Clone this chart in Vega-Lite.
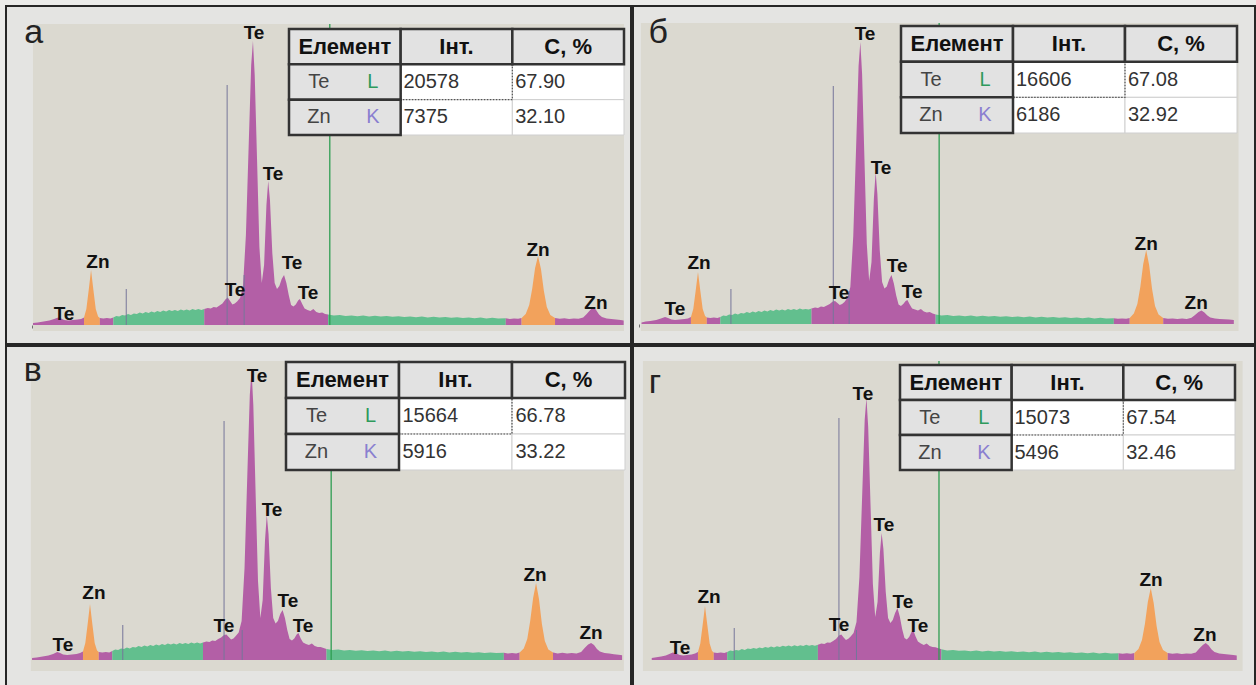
{
 "$schema": "https://vega.github.io/schema/vega-lite/v6.json",
 "padding": {"left": 5, "top": 5, "right": 4, "bottom": 1},
 "background": "#ebebe9",
 "spacing": 0,
 "datasets": {
  "fr": [
   {"p":"a","e":0.02,"e2":10.095,"c":3010,"c2":-60},{"p":"b","e":0.04,"e2":10.2,"c":3010,"c2":-70},{"p":"c","e":0.0,"e2":10.13,"c":2990,"c2":-110},{"p":"d","e":-0.05,"e2":10.2,"c":2990,"c2":-110}
  ],
  "ln": [
   {"p":"a","e":3.33,"c":2400,"k":"m"},{"p":"a","e":1.61,"c":360,"k":"m"},{"p":"a","e":3.62,"c":500,"k":"m"},{"p":"a","e":5.08,"c":3010,"k":"g"},
   {"p":"b","e":3.31,"c":2380,"k":"m"},{"p":"b","e":1.57,"c":350,"k":"m"},{"p":"b","e":3.58,"c":330,"k":"m"},{"p":"b","e":5.11,"c":3010,"k":"g"},
   {"p":"c","e":3.30,"c":2390,"k":"m"},{"p":"c","e":1.57,"c":350,"k":"m"},{"p":"c","e":3.61,"c":300,"k":"m"},{"p":"c","e":5.13,"c":2990,"k":"g"},
   {"p":"d","e":3.30,"c":2420,"k":"m"},{"p":"d","e":1.51,"c":320,"k":"m"},{"p":"d","e":3.60,"c":300,"k":"m"},{"p":"d","e":5.01,"c":2990,"k":"g"}
  ],
  "let": [
   {"p":"a","e":-0.13,"c":2820,"t":"а"},{"p":"b","e":0.17,"c":2810,"t":"б"},{"p":"c","e":-0.12,"c":2790,"t":"в"},{"p":"d","e":0.05,"c":2670,"t":"г"}
  ],
  "lab": [
   {"p":"a","e":3.788,"c":2920,"t":"Te"},{"p":"a","e":4.112,"c":1510,"t":"Te"},{"p":"a","e":4.436,"c":620,"t":"Te"},{"p":"a","e":4.709,"c":320,"t":"Te"},{"p":"a","e":3.464,"c":350,"t":"Te"},{"p":"a","e":1.128,"c":630,"t":"Zn"},{"p":"a","e":0.549,"c":110,"t":"Te"},{"p":"a","e":8.63,"c":750,"t":"Zn"},{"p":"a","e":9.618,"c":220,"t":"Zn"},
   {"p":"b","e":3.85,"c":2900,"t":"Te"},{"p":"b","e":4.122,"c":1560,"t":"Te"},{"p":"b","e":4.395,"c":580,"t":"Te"},{"p":"b","e":4.65,"c":320,"t":"Te"},{"p":"b","e":3.408,"c":310,"t":"Te"},{"p":"b","e":1.027,"c":610,"t":"Zn"},{"p":"b","e":0.619,"c":150,"t":"Te"},{"p":"b","e":8.63,"c":800,"t":"Zn"},{"p":"b","e":9.48,"c":210,"t":"Zn"},
   {"p":"c","e":3.863,"c":2840,"t":"Te"},{"p":"c","e":4.12,"c":1500,"t":"Te"},{"p":"c","e":4.392,"c":590,"t":"Te"},{"p":"c","e":4.649,"c":340,"t":"Te"},{"p":"c","e":3.299,"c":340,"t":"Te"},{"p":"c","e":1.078,"c":670,"t":"Zn"},{"p":"c","e":0.548,"c":150,"t":"Te"},{"p":"c","e":8.613,"c":850,"t":"Zn"},{"p":"c","e":9.569,"c":270,"t":"Zn"},
   {"p":"d","e":3.711,"c":2660,"t":"Te"},{"p":"d","e":4.07,"c":1350,"t":"Te"},{"p":"d","e":4.394,"c":580,"t":"Te"},{"p":"d","e":4.65,"c":340,"t":"Te"},{"p":"d","e":3.301,"c":350,"t":"Te"},{"p":"d","e":1.079,"c":630,"t":"Zn"},{"p":"d","e":0.583,"c":120,"t":"Te"},{"p":"d","e":8.634,"c":800,"t":"Zn"},{"p":"d","e":9.557,"c":250,"t":"Zn"}
  ],
  "tb": [
   {"p":"a","r":0,"col":0,"t":"Елемент","k":"h"},{"p":"a","r":0,"col":1,"t":"Інт.","k":"h"},{"p":"a","r":0,"col":2,"t":"С, %","k":"h"},
   {"p":"a","r":1,"col":0,"t":"Te","k":"n"},{"p":"a","r":1,"col":0,"t":"L","k":"s"},{"p":"a","r":1,"col":1,"t":"20578","k":"v"},{"p":"a","r":1,"col":2,"t":"67.90","k":"v"},
   {"p":"a","r":2,"col":0,"t":"Zn","k":"n"},{"p":"a","r":2,"col":0,"t":"K","k":"s"},{"p":"a","r":2,"col":1,"t":"7375","k":"v"},{"p":"a","r":2,"col":2,"t":"32.10","k":"v"},
   {"p":"b","r":0,"col":0,"t":"Елемент","k":"h"},{"p":"b","r":0,"col":1,"t":"Інт.","k":"h"},{"p":"b","r":0,"col":2,"t":"С, %","k":"h"},
   {"p":"b","r":1,"col":0,"t":"Te","k":"n"},{"p":"b","r":1,"col":0,"t":"L","k":"s"},{"p":"b","r":1,"col":1,"t":"16606","k":"v"},{"p":"b","r":1,"col":2,"t":"67.08","k":"v"},
   {"p":"b","r":2,"col":0,"t":"Zn","k":"n"},{"p":"b","r":2,"col":0,"t":"K","k":"s"},{"p":"b","r":2,"col":1,"t":"6186","k":"v"},{"p":"b","r":2,"col":2,"t":"32.92","k":"v"},
   {"p":"c","r":0,"col":0,"t":"Елемент","k":"h"},{"p":"c","r":0,"col":1,"t":"Інт.","k":"h"},{"p":"c","r":0,"col":2,"t":"С, %","k":"h"},
   {"p":"c","r":1,"col":0,"t":"Te","k":"n"},{"p":"c","r":1,"col":0,"t":"L","k":"s"},{"p":"c","r":1,"col":1,"t":"15664","k":"v"},{"p":"c","r":1,"col":2,"t":"66.78","k":"v"},
   {"p":"c","r":2,"col":0,"t":"Zn","k":"n"},{"p":"c","r":2,"col":0,"t":"K","k":"s"},{"p":"c","r":2,"col":1,"t":"5916","k":"v"},{"p":"c","r":2,"col":2,"t":"33.22","k":"v"},
   {"p":"d","r":0,"col":0,"t":"Елемент","k":"h"},{"p":"d","r":0,"col":1,"t":"Інт.","k":"h"},{"p":"d","r":0,"col":2,"t":"С, %","k":"h"},
   {"p":"d","r":1,"col":0,"t":"Te","k":"n"},{"p":"d","r":1,"col":0,"t":"L","k":"s"},{"p":"d","r":1,"col":1,"t":"15073","k":"v"},{"p":"d","r":1,"col":2,"t":"67.54","k":"v"},
   {"p":"d","r":2,"col":0,"t":"Zn","k":"n"},{"p":"d","r":2,"col":0,"t":"K","k":"s"},{"p":"d","r":2,"col":1,"t":"5496","k":"v"},{"p":"d","r":2,"col":2,"t":"32.46","k":"v"}
  ],
  "sa": [
   {"e":0.02,"c":20,"s":"m1"},{"e":0.1,"c":25,"s":"m1"},{"e":0.2,"c":35,"s":"m1"},{"e":0.3,"c":45,"s":"m1"},{"e":0.38,"c":60,"s":"m1"},{"e":0.45,"c":75,"s":"m1"},{"e":0.5,"c":65,"s":"m1"},{"e":0.55,"c":50,"s":"m1"},{"e":0.62,"c":45,"s":"m1"},{"e":0.7,"c":50,"s":"m1"},{"e":0.78,"c":55,"s":"m1"},{"e":0.84,"c":60,"s":"m1"},{"e":0.89,"c":75,"s":"m1"},
   {"e":0.89,"c":75,"s":"o1"},{"e":0.93,"c":160,"s":"o1"},{"e":0.97,"c":350,"s":"o1"},{"e":1.01,"c":550,"s":"o1"},{"e":1.05,"c":350,"s":"o1"},{"e":1.09,"c":160,"s":"o1"},{"e":1.13,"c":85,"s":"o1"},{"e":1.16,"c":70,"s":"o1"},
   {"e":1.16,"c":70,"s":"m2"},{"e":1.22,"c":65,"s":"m2"},{"e":1.28,"c":70,"s":"m2"},{"e":1.34,"c":65,"s":"m2"},{"e":1.39,"c":75,"s":"m2"},
   {"e":1.39,"c":75,"s":"g1"},{"e":1.44,"c":90,"s":"g1"},{"e":1.49,"c":85,"s":"g1"},{"e":1.54,"c":100,"s":"g1"},{"e":1.59,"c":95,"s":"g1"},{"e":1.64,"c":110,"s":"g1"},{"e":1.69,"c":100,"s":"g1"},{"e":1.74,"c":115,"s":"g1"},{"e":1.79,"c":110,"s":"g1"},{"e":1.84,"c":125,"s":"g1"},{"e":1.89,"c":115,"s":"g1"},{"e":1.94,"c":130,"s":"g1"},{"e":1.99,"c":120,"s":"g1"},{"e":2.04,"c":135,"s":"g1"},{"e":2.09,"c":125,"s":"g1"},{"e":2.14,"c":140,"s":"g1"},{"e":2.19,"c":130,"s":"g1"},{"e":2.24,"c":145,"s":"g1"},{"e":2.29,"c":135,"s":"g1"},{"e":2.34,"c":150,"s":"g1"},{"e":2.39,"c":140,"s":"g1"},{"e":2.44,"c":150,"s":"g1"},{"e":2.49,"c":140,"s":"g1"},{"e":2.54,"c":155,"s":"g1"},{"e":2.59,"c":145,"s":"g1"},{"e":2.64,"c":155,"s":"g1"},{"e":2.69,"c":145,"s":"g1"},{"e":2.74,"c":160,"s":"g1"},{"e":2.79,"c":150,"s":"g1"},{"e":2.84,"c":160,"s":"g1"},{"e":2.89,"c":150,"s":"g1"},{"e":2.94,"c":160,"s":"g1"},
   {"e":2.94,"c":160,"s":"m3"},{"e":3.0,"c":170,"s":"m3"},{"e":3.05,"c":165,"s":"m3"},{"e":3.1,"c":180,"s":"m3"},{"e":3.15,"c":175,"s":"m3"},{"e":3.2,"c":195,"s":"m3"},{"e":3.25,"c":215,"s":"m3"},{"e":3.3,"c":255,"s":"m3"},{"e":3.34,"c":275,"s":"m3"},{"e":3.38,"c":240,"s":"m3"},{"e":3.42,"c":205,"s":"m3"},{"e":3.46,"c":215,"s":"m3"},{"e":3.5,"c":235,"s":"m3"},{"e":3.55,"c":270,"s":"m3"},{"e":3.6,"c":380,"s":"m3"},{"e":3.65,"c":900,"s":"m3"},{"e":3.7,"c":1850,"s":"m3"},{"e":3.74,"c":2600,"s":"m3"},{"e":3.77,"c":2840,"s":"m3"},{"e":3.8,"c":2500,"s":"m3"},{"e":3.84,"c":1650,"s":"m3"},{"e":3.88,"c":780,"s":"m3"},{"e":3.92,"c":420,"s":"m3"},{"e":3.96,"c":600,"s":"m3"},{"e":4.0,"c":1200,"s":"m3"},{"e":4.03,"c":1440,"s":"m3"},{"e":4.06,"c":1250,"s":"m3"},{"e":4.1,"c":720,"s":"m3"},{"e":4.14,"c":420,"s":"m3"},{"e":4.18,"c":360,"s":"m3"},{"e":4.22,"c":390,"s":"m3"},{"e":4.26,"c":460,"s":"m3"},{"e":4.3,"c":500,"s":"m3"},{"e":4.34,"c":420,"s":"m3"},{"e":4.38,"c":300,"s":"m3"},{"e":4.42,"c":200,"s":"m3"},{"e":4.46,"c":185,"s":"m3"},{"e":4.5,"c":205,"s":"m3"},{"e":4.54,"c":245,"s":"m3"},{"e":4.57,"c":260,"s":"m3"},{"e":4.61,"c":210,"s":"m3"},{"e":4.65,"c":165,"s":"m3"},{"e":4.7,"c":150,"s":"m3"},{"e":4.75,"c":140,"s":"m3"},{"e":4.8,"c":160,"s":"m3"},{"e":4.85,"c":130,"s":"m3"},{"e":4.9,"c":120,"s":"m3"},{"e":4.95,"c":125,"s":"m3"},{"e":5.0,"c":110,"s":"m3"},{"e":5.05,"c":105,"s":"m3"},
   {"e":5.05,"c":105,"s":"g2"},{"e":5.15,"c":95,"s":"g2"},{"e":5.25,"c":100,"s":"g2"},{"e":5.35,"c":90,"s":"g2"},{"e":5.45,"c":95,"s":"g2"},{"e":5.55,"c":88,"s":"g2"},{"e":5.65,"c":95,"s":"g2"},{"e":5.75,"c":85,"s":"g2"},{"e":5.85,"c":92,"s":"g2"},{"e":5.95,"c":85,"s":"g2"},{"e":6.05,"c":90,"s":"g2"},{"e":6.15,"c":82,"s":"g2"},{"e":6.25,"c":88,"s":"g2"},{"e":6.35,"c":80,"s":"g2"},{"e":6.45,"c":86,"s":"g2"},{"e":6.55,"c":78,"s":"g2"},{"e":6.65,"c":84,"s":"g2"},{"e":6.75,"c":76,"s":"g2"},{"e":6.85,"c":82,"s":"g2"},{"e":6.95,"c":75,"s":"g2"},{"e":7.05,"c":80,"s":"g2"},{"e":7.15,"c":72,"s":"g2"},{"e":7.25,"c":78,"s":"g2"},{"e":7.35,"c":70,"s":"g2"},{"e":7.45,"c":76,"s":"g2"},{"e":7.55,"c":68,"s":"g2"},{"e":7.65,"c":74,"s":"g2"},{"e":7.75,"c":66,"s":"g2"},{"e":7.85,"c":72,"s":"g2"},{"e":7.95,"c":65,"s":"g2"},{"e":8.08,"c":68,"s":"g2"},
   {"e":8.08,"c":68,"s":"m4"},{"e":8.15,"c":60,"s":"m4"},{"e":8.22,"c":66,"s":"m4"},{"e":8.29,"c":62,"s":"m4"},{"e":8.35,"c":70,"s":"m4"},
   {"e":8.35,"c":70,"s":"o2"},{"e":8.42,"c":110,"s":"o2"},{"e":8.48,"c":200,"s":"o2"},{"e":8.53,"c":360,"s":"o2"},{"e":8.58,"c":570,"s":"o2"},{"e":8.63,"c":690,"s":"o2"},{"e":8.68,"c":560,"s":"o2"},{"e":8.73,"c":340,"s":"o2"},{"e":8.78,"c":180,"s":"o2"},{"e":8.84,"c":100,"s":"o2"},{"e":8.92,"c":70,"s":"o2"},
   {"e":8.92,"c":70,"s":"m5"},{"e":9.0,"c":62,"s":"m5"},{"e":9.08,"c":68,"s":"m5"},{"e":9.16,"c":60,"s":"m5"},{"e":9.24,"c":66,"s":"m5"},{"e":9.32,"c":62,"s":"m5"},{"e":9.4,"c":75,"s":"m5"},{"e":9.46,"c":110,"s":"m5"},{"e":9.52,"c":150,"s":"m5"},{"e":9.57,"c":180,"s":"m5"},{"e":9.62,"c":150,"s":"m5"},{"e":9.67,"c":105,"s":"m5"},{"e":9.72,"c":80,"s":"m5"},{"e":9.8,"c":66,"s":"m5"},{"e":9.88,"c":60,"s":"m5"},{"e":9.96,"c":55,"s":"m5"},{"e":10.04,"c":50,"s":"m5"},{"e":10.09,"c":45,"s":"m5"}
  ],
  "sb": [
   {"e":0.05,"c":15,"s":"m1"},{"e":0.12,"c":25,"s":"m1"},{"e":0.2,"c":30,"s":"m1"},{"e":0.3,"c":40,"s":"m1"},{"e":0.38,"c":55,"s":"m1"},{"e":0.45,"c":70,"s":"m1"},{"e":0.5,"c":60,"s":"m1"},{"e":0.56,"c":45,"s":"m1"},{"e":0.62,"c":40,"s":"m1"},{"e":0.7,"c":45,"s":"m1"},{"e":0.78,"c":50,"s":"m1"},{"e":0.84,"c":55,"s":"m1"},{"e":0.89,"c":70,"s":"m1"},
   {"e":0.89,"c":70,"s":"o1"},{"e":0.93,"c":150,"s":"o1"},{"e":0.97,"c":330,"s":"o1"},{"e":1.01,"c":520,"s":"o1"},{"e":1.05,"c":330,"s":"o1"},{"e":1.09,"c":150,"s":"o1"},{"e":1.13,"c":80,"s":"o1"},{"e":1.16,"c":65,"s":"o1"},
   {"e":1.16,"c":65,"s":"m2"},{"e":1.22,"c":60,"s":"m2"},{"e":1.28,"c":65,"s":"m2"},{"e":1.34,"c":60,"s":"m2"},{"e":1.39,"c":70,"s":"m2"},
   {"e":1.39,"c":70,"s":"g1"},{"e":1.44,"c":85,"s":"g1"},{"e":1.49,"c":80,"s":"g1"},{"e":1.54,"c":95,"s":"g1"},{"e":1.59,"c":90,"s":"g1"},{"e":1.64,"c":105,"s":"g1"},{"e":1.69,"c":95,"s":"g1"},{"e":1.74,"c":110,"s":"g1"},{"e":1.79,"c":105,"s":"g1"},{"e":1.84,"c":120,"s":"g1"},{"e":1.89,"c":110,"s":"g1"},{"e":1.94,"c":125,"s":"g1"},{"e":1.99,"c":115,"s":"g1"},{"e":2.04,"c":130,"s":"g1"},{"e":2.09,"c":120,"s":"g1"},{"e":2.14,"c":135,"s":"g1"},{"e":2.19,"c":125,"s":"g1"},{"e":2.24,"c":140,"s":"g1"},{"e":2.29,"c":130,"s":"g1"},{"e":2.34,"c":145,"s":"g1"},{"e":2.39,"c":135,"s":"g1"},{"e":2.44,"c":145,"s":"g1"},{"e":2.49,"c":135,"s":"g1"},{"e":2.54,"c":150,"s":"g1"},{"e":2.59,"c":140,"s":"g1"},{"e":2.64,"c":150,"s":"g1"},{"e":2.69,"c":140,"s":"g1"},{"e":2.74,"c":155,"s":"g1"},{"e":2.79,"c":145,"s":"g1"},{"e":2.84,"c":150,"s":"g1"},{"e":2.89,"c":145,"s":"g1"},{"e":2.94,"c":155,"s":"g1"},
   {"e":2.94,"c":155,"s":"m3"},{"e":3.0,"c":165,"s":"m3"},{"e":3.05,"c":160,"s":"m3"},{"e":3.1,"c":175,"s":"m3"},{"e":3.15,"c":170,"s":"m3"},{"e":3.2,"c":185,"s":"m3"},{"e":3.25,"c":200,"s":"m3"},{"e":3.3,"c":225,"s":"m3"},{"e":3.34,"c":230,"s":"m3"},{"e":3.38,"c":210,"s":"m3"},{"e":3.42,"c":190,"s":"m3"},{"e":3.46,"c":200,"s":"m3"},{"e":3.5,"c":220,"s":"m3"},{"e":3.55,"c":260,"s":"m3"},{"e":3.6,"c":370,"s":"m3"},{"e":3.65,"c":880,"s":"m3"},{"e":3.7,"c":1800,"s":"m3"},{"e":3.74,"c":2580,"s":"m3"},{"e":3.77,"c":2820,"s":"m3"},{"e":3.8,"c":2500,"s":"m3"},{"e":3.84,"c":1650,"s":"m3"},{"e":3.88,"c":800,"s":"m3"},{"e":3.92,"c":430,"s":"m3"},{"e":3.96,"c":620,"s":"m3"},{"e":4.0,"c":1250,"s":"m3"},{"e":4.03,"c":1520,"s":"m3"},{"e":4.06,"c":1300,"s":"m3"},{"e":4.1,"c":740,"s":"m3"},{"e":4.14,"c":420,"s":"m3"},{"e":4.18,"c":355,"s":"m3"},{"e":4.22,"c":375,"s":"m3"},{"e":4.26,"c":445,"s":"m3"},{"e":4.3,"c":490,"s":"m3"},{"e":4.34,"c":405,"s":"m3"},{"e":4.38,"c":285,"s":"m3"},{"e":4.42,"c":195,"s":"m3"},{"e":4.46,"c":180,"s":"m3"},{"e":4.5,"c":200,"s":"m3"},{"e":4.54,"c":230,"s":"m3"},{"e":4.57,"c":240,"s":"m3"},{"e":4.61,"c":195,"s":"m3"},{"e":4.65,"c":155,"s":"m3"},{"e":4.7,"c":145,"s":"m3"},{"e":4.75,"c":135,"s":"m3"},{"e":4.8,"c":150,"s":"m3"},{"e":4.85,"c":125,"s":"m3"},{"e":4.9,"c":115,"s":"m3"},{"e":4.95,"c":120,"s":"m3"},{"e":5.0,"c":105,"s":"m3"},{"e":5.05,"c":95,"s":"m3"},
   {"e":5.05,"c":95,"s":"g2"},{"e":5.15,"c":85,"s":"g2"},{"e":5.25,"c":90,"s":"g2"},{"e":5.35,"c":80,"s":"g2"},{"e":5.45,"c":86,"s":"g2"},{"e":5.55,"c":78,"s":"g2"},{"e":5.65,"c":84,"s":"g2"},{"e":5.75,"c":76,"s":"g2"},{"e":5.85,"c":82,"s":"g2"},{"e":5.95,"c":74,"s":"g2"},{"e":6.05,"c":80,"s":"g2"},{"e":6.15,"c":72,"s":"g2"},{"e":6.25,"c":78,"s":"g2"},{"e":6.35,"c":70,"s":"g2"},{"e":6.45,"c":76,"s":"g2"},{"e":6.55,"c":68,"s":"g2"},{"e":6.65,"c":74,"s":"g2"},{"e":6.75,"c":66,"s":"g2"},{"e":6.85,"c":72,"s":"g2"},{"e":6.95,"c":64,"s":"g2"},{"e":7.05,"c":70,"s":"g2"},{"e":7.15,"c":62,"s":"g2"},{"e":7.25,"c":68,"s":"g2"},{"e":7.35,"c":60,"s":"g2"},{"e":7.45,"c":66,"s":"g2"},{"e":7.55,"c":58,"s":"g2"},{"e":7.65,"c":64,"s":"g2"},{"e":7.75,"c":56,"s":"g2"},{"e":7.85,"c":62,"s":"g2"},{"e":7.95,"c":55,"s":"g2"},{"e":8.08,"c":58,"s":"g2"},
   {"e":8.08,"c":58,"s":"m4"},{"e":8.15,"c":52,"s":"m4"},{"e":8.22,"c":56,"s":"m4"},{"e":8.29,"c":52,"s":"m4"},{"e":8.35,"c":60,"s":"m4"},
   {"e":8.35,"c":60,"s":"o2"},{"e":8.42,"c":105,"s":"o2"},{"e":8.48,"c":200,"s":"o2"},{"e":8.53,"c":370,"s":"o2"},{"e":8.58,"c":600,"s":"o2"},{"e":8.63,"c":740,"s":"o2"},{"e":8.68,"c":590,"s":"o2"},{"e":8.73,"c":350,"s":"o2"},{"e":8.78,"c":180,"s":"o2"},{"e":8.84,"c":95,"s":"o2"},{"e":8.92,"c":60,"s":"o2"},
   {"e":8.92,"c":60,"s":"m5"},{"e":9.0,"c":52,"s":"m5"},{"e":9.08,"c":56,"s":"m5"},{"e":9.16,"c":50,"s":"m5"},{"e":9.24,"c":54,"s":"m5"},{"e":9.32,"c":50,"s":"m5"},{"e":9.4,"c":62,"s":"m5"},{"e":9.46,"c":90,"s":"m5"},{"e":9.52,"c":120,"s":"m5"},{"e":9.57,"c":135,"s":"m5"},{"e":9.62,"c":115,"s":"m5"},{"e":9.67,"c":85,"s":"m5"},{"e":9.72,"c":65,"s":"m5"},{"e":9.8,"c":55,"s":"m5"},{"e":9.88,"c":50,"s":"m5"},{"e":9.96,"c":48,"s":"m5"},{"e":10.04,"c":45,"s":"m5"},{"e":10.12,"c":40,"s":"m5"}
  ],
  "sc": [
   {"e":0.02,"c":20,"s":"m1"},{"e":0.1,"c":25,"s":"m1"},{"e":0.2,"c":35,"s":"m1"},{"e":0.3,"c":45,"s":"m1"},{"e":0.38,"c":60,"s":"m1"},{"e":0.45,"c":80,"s":"m1"},{"e":0.5,"c":70,"s":"m1"},{"e":0.55,"c":55,"s":"m1"},{"e":0.62,"c":50,"s":"m1"},{"e":0.7,"c":55,"s":"m1"},{"e":0.78,"c":60,"s":"m1"},{"e":0.84,"c":70,"s":"m1"},{"e":0.89,"c":85,"s":"m1"},
   {"e":0.89,"c":85,"s":"o1"},{"e":0.93,"c":170,"s":"o1"},{"e":0.97,"c":360,"s":"o1"},{"e":1.01,"c":560,"s":"o1"},{"e":1.05,"c":360,"s":"o1"},{"e":1.09,"c":170,"s":"o1"},{"e":1.13,"c":95,"s":"o1"},{"e":1.16,"c":80,"s":"o1"},
   {"e":1.16,"c":80,"s":"m2"},{"e":1.22,"c":75,"s":"m2"},{"e":1.28,"c":80,"s":"m2"},{"e":1.34,"c":75,"s":"m2"},{"e":1.39,"c":90,"s":"m2"},
   {"e":1.39,"c":90,"s":"g1"},{"e":1.44,"c":105,"s":"g1"},{"e":1.49,"c":100,"s":"g1"},{"e":1.54,"c":115,"s":"g1"},{"e":1.59,"c":110,"s":"g1"},{"e":1.64,"c":125,"s":"g1"},{"e":1.69,"c":115,"s":"g1"},{"e":1.74,"c":130,"s":"g1"},{"e":1.79,"c":125,"s":"g1"},{"e":1.84,"c":140,"s":"g1"},{"e":1.89,"c":130,"s":"g1"},{"e":1.94,"c":145,"s":"g1"},{"e":1.99,"c":135,"s":"g1"},{"e":2.04,"c":150,"s":"g1"},{"e":2.09,"c":140,"s":"g1"},{"e":2.14,"c":155,"s":"g1"},{"e":2.19,"c":145,"s":"g1"},{"e":2.24,"c":160,"s":"g1"},{"e":2.29,"c":150,"s":"g1"},{"e":2.34,"c":165,"s":"g1"},{"e":2.39,"c":155,"s":"g1"},{"e":2.44,"c":165,"s":"g1"},{"e":2.49,"c":155,"s":"g1"},{"e":2.54,"c":170,"s":"g1"},{"e":2.59,"c":160,"s":"g1"},{"e":2.64,"c":170,"s":"g1"},{"e":2.69,"c":160,"s":"g1"},{"e":2.74,"c":175,"s":"g1"},{"e":2.79,"c":165,"s":"g1"},{"e":2.84,"c":175,"s":"g1"},{"e":2.89,"c":165,"s":"g1"},{"e":2.94,"c":175,"s":"g1"},
   {"e":2.94,"c":175,"s":"m3"},{"e":3.0,"c":185,"s":"m3"},{"e":3.05,"c":180,"s":"m3"},{"e":3.1,"c":195,"s":"m3"},{"e":3.15,"c":190,"s":"m3"},{"e":3.2,"c":210,"s":"m3"},{"e":3.25,"c":225,"s":"m3"},{"e":3.3,"c":250,"s":"m3"},{"e":3.34,"c":255,"s":"m3"},{"e":3.38,"c":230,"s":"m3"},{"e":3.42,"c":205,"s":"m3"},{"e":3.46,"c":215,"s":"m3"},{"e":3.5,"c":240,"s":"m3"},{"e":3.55,"c":275,"s":"m3"},{"e":3.6,"c":390,"s":"m3"},{"e":3.65,"c":920,"s":"m3"},{"e":3.7,"c":1900,"s":"m3"},{"e":3.74,"c":2650,"s":"m3"},{"e":3.77,"c":2900,"s":"m3"},{"e":3.8,"c":2550,"s":"m3"},{"e":3.84,"c":1650,"s":"m3"},{"e":3.88,"c":790,"s":"m3"},{"e":3.92,"c":420,"s":"m3"},{"e":3.96,"c":600,"s":"m3"},{"e":4.0,"c":1200,"s":"m3"},{"e":4.03,"c":1450,"s":"m3"},{"e":4.06,"c":1260,"s":"m3"},{"e":4.1,"c":720,"s":"m3"},{"e":4.14,"c":420,"s":"m3"},{"e":4.18,"c":365,"s":"m3"},{"e":4.22,"c":390,"s":"m3"},{"e":4.26,"c":460,"s":"m3"},{"e":4.3,"c":500,"s":"m3"},{"e":4.34,"c":420,"s":"m3"},{"e":4.38,"c":300,"s":"m3"},{"e":4.42,"c":210,"s":"m3"},{"e":4.46,"c":195,"s":"m3"},{"e":4.5,"c":215,"s":"m3"},{"e":4.54,"c":255,"s":"m3"},{"e":4.57,"c":270,"s":"m3"},{"e":4.61,"c":215,"s":"m3"},{"e":4.65,"c":175,"s":"m3"},{"e":4.7,"c":160,"s":"m3"},{"e":4.75,"c":150,"s":"m3"},{"e":4.8,"c":165,"s":"m3"},{"e":4.85,"c":140,"s":"m3"},{"e":4.9,"c":130,"s":"m3"},{"e":4.95,"c":130,"s":"m3"},{"e":5.0,"c":120,"s":"m3"},{"e":5.05,"c":110,"s":"m3"},
   {"e":5.05,"c":110,"s":"g2"},{"e":5.15,"c":100,"s":"g2"},{"e":5.25,"c":105,"s":"g2"},{"e":5.35,"c":95,"s":"g2"},{"e":5.45,"c":100,"s":"g2"},{"e":5.55,"c":92,"s":"g2"},{"e":5.65,"c":98,"s":"g2"},{"e":5.75,"c":90,"s":"g2"},{"e":5.85,"c":96,"s":"g2"},{"e":5.95,"c":88,"s":"g2"},{"e":6.05,"c":94,"s":"g2"},{"e":6.15,"c":86,"s":"g2"},{"e":6.25,"c":92,"s":"g2"},{"e":6.35,"c":84,"s":"g2"},{"e":6.45,"c":90,"s":"g2"},{"e":6.55,"c":82,"s":"g2"},{"e":6.65,"c":88,"s":"g2"},{"e":6.75,"c":80,"s":"g2"},{"e":6.85,"c":86,"s":"g2"},{"e":6.95,"c":78,"s":"g2"},{"e":7.05,"c":84,"s":"g2"},{"e":7.15,"c":76,"s":"g2"},{"e":7.25,"c":82,"s":"g2"},{"e":7.35,"c":74,"s":"g2"},{"e":7.45,"c":80,"s":"g2"},{"e":7.55,"c":72,"s":"g2"},{"e":7.65,"c":78,"s":"g2"},{"e":7.75,"c":70,"s":"g2"},{"e":7.85,"c":76,"s":"g2"},{"e":7.95,"c":70,"s":"g2"},{"e":8.08,"c":72,"s":"g2"},
   {"e":8.08,"c":72,"s":"m4"},{"e":8.15,"c":65,"s":"m4"},{"e":8.22,"c":70,"s":"m4"},{"e":8.29,"c":66,"s":"m4"},{"e":8.35,"c":75,"s":"m4"},
   {"e":8.35,"c":75,"s":"o2"},{"e":8.42,"c":115,"s":"o2"},{"e":8.48,"c":210,"s":"o2"},{"e":8.53,"c":390,"s":"o2"},{"e":8.58,"c":620,"s":"o2"},{"e":8.63,"c":770,"s":"o2"},{"e":8.68,"c":610,"s":"o2"},{"e":8.73,"c":360,"s":"o2"},{"e":8.78,"c":190,"s":"o2"},{"e":8.84,"c":105,"s":"o2"},{"e":8.92,"c":75,"s":"o2"},
   {"e":8.92,"c":75,"s":"m5"},{"e":9.0,"c":66,"s":"m5"},{"e":9.08,"c":72,"s":"m5"},{"e":9.16,"c":64,"s":"m5"},{"e":9.24,"c":70,"s":"m5"},{"e":9.32,"c":66,"s":"m5"},{"e":9.4,"c":80,"s":"m5"},{"e":9.46,"c":120,"s":"m5"},{"e":9.52,"c":155,"s":"m5"},{"e":9.57,"c":170,"s":"m5"},{"e":9.62,"c":150,"s":"m5"},{"e":9.67,"c":110,"s":"m5"},{"e":9.72,"c":85,"s":"m5"},{"e":9.8,"c":70,"s":"m5"},{"e":9.88,"c":64,"s":"m5"},{"e":9.96,"c":58,"s":"m5"},{"e":10.04,"c":52,"s":"m5"},{"e":10.1,"c":48,"s":"m5"}
  ],
  "sd": [
   {"e":0.1,"c":20,"s":"m1"},{"e":0.18,"c":28,"s":"m1"},{"e":0.26,"c":35,"s":"m1"},{"e":0.34,"c":45,"s":"m1"},{"e":0.4,"c":60,"s":"m1"},{"e":0.46,"c":75,"s":"m1"},{"e":0.52,"c":65,"s":"m1"},{"e":0.58,"c":50,"s":"m1"},{"e":0.64,"c":45,"s":"m1"},{"e":0.7,"c":50,"s":"m1"},{"e":0.78,"c":55,"s":"m1"},{"e":0.84,"c":65,"s":"m1"},{"e":0.89,"c":80,"s":"m1"},
   {"e":0.89,"c":80,"s":"o1"},{"e":0.93,"c":165,"s":"o1"},{"e":0.97,"c":350,"s":"o1"},{"e":1.01,"c":540,"s":"o1"},{"e":1.05,"c":350,"s":"o1"},{"e":1.09,"c":165,"s":"o1"},{"e":1.13,"c":90,"s":"o1"},{"e":1.16,"c":75,"s":"o1"},
   {"e":1.16,"c":75,"s":"m2"},{"e":1.22,"c":70,"s":"m2"},{"e":1.28,"c":75,"s":"m2"},{"e":1.34,"c":70,"s":"m2"},{"e":1.39,"c":80,"s":"m2"},
   {"e":1.39,"c":80,"s":"g1"},{"e":1.44,"c":95,"s":"g1"},{"e":1.49,"c":90,"s":"g1"},{"e":1.54,"c":100,"s":"g1"},{"e":1.59,"c":95,"s":"g1"},{"e":1.64,"c":110,"s":"g1"},{"e":1.69,"c":100,"s":"g1"},{"e":1.74,"c":115,"s":"g1"},{"e":1.79,"c":110,"s":"g1"},{"e":1.84,"c":120,"s":"g1"},{"e":1.89,"c":112,"s":"g1"},{"e":1.94,"c":125,"s":"g1"},{"e":1.99,"c":118,"s":"g1"},{"e":2.04,"c":130,"s":"g1"},{"e":2.09,"c":122,"s":"g1"},{"e":2.14,"c":135,"s":"g1"},{"e":2.19,"c":126,"s":"g1"},{"e":2.24,"c":138,"s":"g1"},{"e":2.29,"c":130,"s":"g1"},{"e":2.34,"c":142,"s":"g1"},{"e":2.39,"c":134,"s":"g1"},{"e":2.44,"c":144,"s":"g1"},{"e":2.49,"c":136,"s":"g1"},{"e":2.54,"c":148,"s":"g1"},{"e":2.59,"c":138,"s":"g1"},{"e":2.64,"c":148,"s":"g1"},{"e":2.69,"c":140,"s":"g1"},{"e":2.74,"c":152,"s":"g1"},{"e":2.79,"c":142,"s":"g1"},{"e":2.84,"c":150,"s":"g1"},{"e":2.89,"c":142,"s":"g1"},{"e":2.94,"c":152,"s":"g1"},
   {"e":2.94,"c":152,"s":"m3"},{"e":3.0,"c":165,"s":"m3"},{"e":3.05,"c":160,"s":"m3"},{"e":3.1,"c":175,"s":"m3"},{"e":3.15,"c":172,"s":"m3"},{"e":3.2,"c":190,"s":"m3"},{"e":3.25,"c":210,"s":"m3"},{"e":3.3,"c":245,"s":"m3"},{"e":3.34,"c":255,"s":"m3"},{"e":3.38,"c":225,"s":"m3"},{"e":3.42,"c":200,"s":"m3"},{"e":3.46,"c":212,"s":"m3"},{"e":3.5,"c":235,"s":"m3"},{"e":3.55,"c":270,"s":"m3"},{"e":3.6,"c":380,"s":"m3"},{"e":3.65,"c":830,"s":"m3"},{"e":3.7,"c":1700,"s":"m3"},{"e":3.74,"c":2400,"s":"m3"},{"e":3.77,"c":2620,"s":"m3"},{"e":3.8,"c":2330,"s":"m3"},{"e":3.84,"c":1550,"s":"m3"},{"e":3.88,"c":760,"s":"m3"},{"e":3.92,"c":430,"s":"m3"},{"e":3.96,"c":580,"s":"m3"},{"e":4.0,"c":1070,"s":"m3"},{"e":4.03,"c":1270,"s":"m3"},{"e":4.06,"c":1110,"s":"m3"},{"e":4.1,"c":680,"s":"m3"},{"e":4.14,"c":420,"s":"m3"},{"e":4.18,"c":370,"s":"m3"},{"e":4.22,"c":400,"s":"m3"},{"e":4.26,"c":470,"s":"m3"},{"e":4.3,"c":520,"s":"m3"},{"e":4.34,"c":435,"s":"m3"},{"e":4.38,"c":310,"s":"m3"},{"e":4.42,"c":220,"s":"m3"},{"e":4.46,"c":205,"s":"m3"},{"e":4.5,"c":230,"s":"m3"},{"e":4.54,"c":280,"s":"m3"},{"e":4.57,"c":300,"s":"m3"},{"e":4.61,"c":235,"s":"m3"},{"e":4.65,"c":185,"s":"m3"},{"e":4.7,"c":165,"s":"m3"},{"e":4.75,"c":150,"s":"m3"},{"e":4.8,"c":165,"s":"m3"},{"e":4.85,"c":140,"s":"m3"},{"e":4.9,"c":130,"s":"m3"},{"e":4.95,"c":128,"s":"m3"},{"e":5.0,"c":118,"s":"m3"},{"e":5.05,"c":108,"s":"m3"},
   {"e":5.05,"c":108,"s":"g2"},{"e":5.15,"c":96,"s":"g2"},{"e":5.25,"c":100,"s":"g2"},{"e":5.35,"c":92,"s":"g2"},{"e":5.45,"c":96,"s":"g2"},{"e":5.55,"c":88,"s":"g2"},{"e":5.65,"c":94,"s":"g2"},{"e":5.75,"c":86,"s":"g2"},{"e":5.85,"c":92,"s":"g2"},{"e":5.95,"c":84,"s":"g2"},{"e":6.05,"c":90,"s":"g2"},{"e":6.15,"c":82,"s":"g2"},{"e":6.25,"c":88,"s":"g2"},{"e":6.35,"c":80,"s":"g2"},{"e":6.45,"c":86,"s":"g2"},{"e":6.55,"c":78,"s":"g2"},{"e":6.65,"c":84,"s":"g2"},{"e":6.75,"c":76,"s":"g2"},{"e":6.85,"c":82,"s":"g2"},{"e":6.95,"c":74,"s":"g2"},{"e":7.05,"c":80,"s":"g2"},{"e":7.15,"c":72,"s":"g2"},{"e":7.25,"c":78,"s":"g2"},{"e":7.35,"c":70,"s":"g2"},{"e":7.45,"c":76,"s":"g2"},{"e":7.55,"c":68,"s":"g2"},{"e":7.65,"c":74,"s":"g2"},{"e":7.75,"c":66,"s":"g2"},{"e":7.85,"c":72,"s":"g2"},{"e":7.95,"c":65,"s":"g2"},{"e":8.08,"c":68,"s":"g2"},
   {"e":8.08,"c":68,"s":"m4"},{"e":8.15,"c":62,"s":"m4"},{"e":8.22,"c":67,"s":"m4"},{"e":8.29,"c":63,"s":"m4"},{"e":8.35,"c":70,"s":"m4"},
   {"e":8.35,"c":70,"s":"o2"},{"e":8.42,"c":110,"s":"o2"},{"e":8.48,"c":200,"s":"o2"},{"e":8.53,"c":360,"s":"o2"},{"e":8.58,"c":580,"s":"o2"},{"e":8.63,"c":720,"s":"o2"},{"e":8.68,"c":570,"s":"o2"},{"e":8.73,"c":340,"s":"o2"},{"e":8.78,"c":180,"s":"o2"},{"e":8.84,"c":100,"s":"o2"},{"e":8.92,"c":70,"s":"o2"},
   {"e":8.92,"c":70,"s":"m5"},{"e":9.0,"c":62,"s":"m5"},{"e":9.08,"c":68,"s":"m5"},{"e":9.16,"c":60,"s":"m5"},{"e":9.24,"c":66,"s":"m5"},{"e":9.32,"c":62,"s":"m5"},{"e":9.4,"c":76,"s":"m5"},{"e":9.46,"c":115,"s":"m5"},{"e":9.52,"c":150,"s":"m5"},{"e":9.57,"c":170,"s":"m5"},{"e":9.62,"c":145,"s":"m5"},{"e":9.67,"c":105,"s":"m5"},{"e":9.72,"c":80,"s":"m5"},{"e":9.8,"c":66,"s":"m5"},{"e":9.88,"c":60,"s":"m5"},{"e":9.96,"c":55,"s":"m5"},{"e":10.04,"c":50,"s":"m5"},{"e":10.1,"c":45,"s":"m5"}
  ]
 },
 "vconcat": [
  {
   "spacing": 0,
   "hconcat": [
    {
     "width": 625, "height": 338,
     "resolve": {"scale": {"x": "independent", "y": "independent", "color": "independent"}},
     "layer": [
      {
       "encoding": {
        "x": {"field": "e", "type": "quantitative", "scale": {"domain": [-0.44, 10.215], "nice": false, "zero": false}, "axis": {"values": [0,0.125,0.25,0.375,0.5,0.625,0.75,0.875,1,1.125,1.25,1.375,1.5,1.625,1.75,1.875,2,2.125,2.25,2.375,2.5,2.625,2.75,2.875,3,3.125,3.25,3.375,3.5,3.625,3.75,3.875,4,4.125,4.25,4.375,4.5,4.625,4.75,4.875,5,5.125,5.25,5.375,5.5,5.625,5.75,5.875,6,6.125,6.25,6.375,6.5,6.625,6.75,6.875,7,7.125,7.25,7.375,7.5,7.625,7.75,7.875,8,8.125,8.25,8.375,8.5,8.625,8.75,8.875,9,9.125,9.25,9.375,9.5,9.625,9.75,9.875,10], "labels": false, "domain": false, "grid": false, "title": null, "ticks": true, "tickSize": 3, "tickColor": "#6e6e6e", "offset": -19}},
        "y": {"field": "c", "type": "quantitative", "stack": null, "scale": {"domain": [-190, 3190], "nice": false, "zero": false}, "axis": null}
       },
       "layer": [
        {"data": {"name": "fr"}, "transform": [{"filter": "datum.p == 'a'"}], "mark": {"type": "rect", "fill": "#dbd9d0"}, "encoding": {"x2": {"field": "e2"}, "y2": {"field": "c2"}}},
        {"data": {"name": "sa"}, "mark": {"type": "area"}, "encoding": {"y2": {"datum": 0}, "color": {"field": "s", "type": "nominal", "scale": {"domain": ["m1","o1","m2","g1","m3","g2","m4","o2","m5"], "range": ["#b35fa6","#f2a25c","#b35fa6","#62bf8e","#b35fa6","#62bf8e","#b35fa6","#f2a25c","#b35fa6"]}, "legend": null}}},
        {"data": {"name": "ln"}, "transform": [{"filter": "datum.p == 'a' && datum.k == 'm'"}], "mark": {"type": "rule", "color": "#76769a", "strokeWidth": 1}, "encoding": {"y2": {"datum": 0}}},
        {"data": {"name": "ln"}, "transform": [{"filter": "datum.p == 'a' && datum.k == 'g'"}], "mark": {"type": "rule", "color": "#2f9e52", "strokeWidth": 1.3}, "encoding": {"y2": {"datum": 0}}},
        {"data": {"name": "lab"}, "transform": [{"filter": "datum.p == 'a'"}], "mark": {"type": "text", "font": "Liberation Sans", "fontSize": 19, "fontWeight": "bold", "color": "#111111"}, "encoding": {"text": {"field": "t"}}},
        {"data": {"name": "let"}, "transform": [{"filter": "datum.p == 'a'"}], "mark": {"type": "text", "font": "Liberation Sans", "fontSize": 34, "align": "left", "baseline": "alphabetic", "color": "#222222"}, "encoding": {"text": {"field": "t"}}}
       ]
      },
      {
       "data": {"name": "tb"},
       "transform": [{"filter": "datum.p == 'a'"}],
       "encoding": {
        "x": {"field": "col", "type": "ordinal", "scale": {"type": "band", "domain": [0,1,2], "range": [283, 618], "paddingInner": 0, "paddingOuter": 0}, "axis": null},
        "y": {"field": "r", "type": "ordinal", "scale": {"type": "band", "domain": [0,1,2], "range": [23, 129], "paddingInner": 0, "paddingOuter": 0}, "axis": null}
       },
       "layer": [
        {"transform": [{"filter": "datum.k == 'v'"}], "mark": {"type": "rect", "fill": "#ffffff", "stroke": "#cfcfcf", "strokeWidth": 1}},
        {"transform": [{"filter": "datum.k == 'v' && datum.r == 1 && datum.col == 1"}], "mark": {"type": "rect", "fill": "transparent", "stroke": "#555555", "strokeDash": [1.5, 1.5], "strokeWidth": 1.2}},
        {"transform": [{"filter": "datum.k == 'h' || datum.k == 'n'"}], "mark": {"type": "rect", "fill": "#e2e2e2", "stroke": "#333333", "strokeWidth": 2.5}},
        {"transform": [{"filter": "datum.k == 'h'"}], "mark": {"type": "text", "font": "Liberation Sans", "fontWeight": "bold", "fontSize": 22, "color": "#111111"}, "encoding": {"text": {"field": "t"}}},
        {"transform": [{"filter": "datum.k == 'n'"}], "mark": {"type": "text", "font": "Liberation Sans", "fontSize": 20, "color": "#444444", "dx": -26}, "encoding": {"text": {"field": "t"}}},
        {"transform": [{"filter": "datum.k == 's'"}], "mark": {"type": "text", "font": "Liberation Sans", "fontSize": 20, "dx": 28}, "encoding": {"text": {"field": "t"}, "color": {"field": "t", "type": "nominal", "scale": {"domain": ["L","K"], "range": ["#2e9a5c","#8a7fd0"]}, "legend": null}}},
        {"transform": [{"filter": "datum.k == 'v'"}], "mark": {"type": "text", "font": "Liberation Sans", "fontSize": 20, "color": "#333333", "align": "left", "dx": -53}, "encoding": {"text": {"field": "t"}}}
       ]
      }
     ]
    },
    {
     "width": 622, "height": 338,
     "resolve": {"scale": {"x": "independent", "y": "independent", "color": "independent"}},
     "layer": [
      {
       "encoding": {
        "x": {"field": "e", "type": "quantitative", "scale": {"domain": [-0.095, 10.48], "nice": false, "zero": false}, "axis": {"values": [0,0.125,0.25,0.375,0.5,0.625,0.75,0.875,1,1.125,1.25,1.375,1.5,1.625,1.75,1.875,2,2.125,2.25,2.375,2.5,2.625,2.75,2.875,3,3.125,3.25,3.375,3.5,3.625,3.75,3.875,4,4.125,4.25,4.375,4.5,4.625,4.75,4.875,5,5.125,5.25,5.375,5.5,5.625,5.75,5.875,6,6.125,6.25,6.375,6.5,6.625,6.75,6.875,7,7.125,7.25,7.375,7.5,7.625,7.75,7.875,8,8.125,8.25,8.375,8.5,8.625,8.75,8.875,9,9.125,9.25,9.375,9.5,9.625,9.75,9.875,10], "labels": false, "domain": false, "grid": false, "title": null, "ticks": true, "tickSize": 3, "tickColor": "#6e6e6e", "offset": -20}},
        "y": {"field": "c", "type": "quantitative", "stack": null, "scale": {"domain": [-200, 3180], "nice": false, "zero": false}, "axis": null}
       },
       "layer": [
        {"data": {"name": "fr"}, "transform": [{"filter": "datum.p == 'b'"}], "mark": {"type": "rect", "fill": "#dbd9d0"}, "encoding": {"x2": {"field": "e2"}, "y2": {"field": "c2"}}},
        {"data": {"name": "sb"}, "mark": {"type": "area"}, "encoding": {"y2": {"datum": 0}, "color": {"field": "s", "type": "nominal", "scale": {"domain": ["m1","o1","m2","g1","m3","g2","m4","o2","m5"], "range": ["#b35fa6","#f2a25c","#b35fa6","#62bf8e","#b35fa6","#62bf8e","#b35fa6","#f2a25c","#b35fa6"]}, "legend": null}}},
        {"data": {"name": "ln"}, "transform": [{"filter": "datum.p == 'b' && datum.k == 'm'"}], "mark": {"type": "rule", "color": "#76769a", "strokeWidth": 1}, "encoding": {"y2": {"datum": 0}}},
        {"data": {"name": "ln"}, "transform": [{"filter": "datum.p == 'b' && datum.k == 'g'"}], "mark": {"type": "rule", "color": "#2f9e52", "strokeWidth": 1.3}, "encoding": {"y2": {"datum": 0}}},
        {"data": {"name": "lab"}, "transform": [{"filter": "datum.p == 'b'"}], "mark": {"type": "text", "font": "Liberation Sans", "fontSize": 19, "fontWeight": "bold", "color": "#111111"}, "encoding": {"text": {"field": "t"}}},
        {"data": {"name": "let"}, "transform": [{"filter": "datum.p == 'b'"}], "mark": {"type": "text", "font": "Liberation Sans", "fontSize": 34, "align": "left", "baseline": "alphabetic", "color": "#222222"}, "encoding": {"text": {"field": "t"}}}
       ]
      },
      {
       "data": {"name": "tb"},
       "transform": [{"filter": "datum.p == 'b'"}],
       "encoding": {
        "x": {"field": "col", "type": "ordinal", "scale": {"type": "band", "domain": [0,1,2], "range": [268, 604], "paddingInner": 0, "paddingOuter": 0}, "axis": null},
        "y": {"field": "r", "type": "ordinal", "scale": {"type": "band", "domain": [0,1,2], "range": [20, 127], "paddingInner": 0, "paddingOuter": 0}, "axis": null}
       },
       "layer": [
        {"transform": [{"filter": "datum.k == 'v'"}], "mark": {"type": "rect", "fill": "#ffffff", "stroke": "#cfcfcf", "strokeWidth": 1}},
        {"transform": [{"filter": "datum.k == 'v' && datum.r == 1 && datum.col == 1"}], "mark": {"type": "rect", "fill": "transparent", "stroke": "#555555", "strokeDash": [1.5, 1.5], "strokeWidth": 1.2}},
        {"transform": [{"filter": "datum.k == 'h' || datum.k == 'n'"}], "mark": {"type": "rect", "fill": "#e2e2e2", "stroke": "#333333", "strokeWidth": 2.5}},
        {"transform": [{"filter": "datum.k == 'h'"}], "mark": {"type": "text", "font": "Liberation Sans", "fontWeight": "bold", "fontSize": 22, "color": "#111111"}, "encoding": {"text": {"field": "t"}}},
        {"transform": [{"filter": "datum.k == 'n'"}], "mark": {"type": "text", "font": "Liberation Sans", "fontSize": 20, "color": "#444444", "dx": -26}, "encoding": {"text": {"field": "t"}}},
        {"transform": [{"filter": "datum.k == 's'"}], "mark": {"type": "text", "font": "Liberation Sans", "fontSize": 20, "dx": 28}, "encoding": {"text": {"field": "t"}, "color": {"field": "t", "type": "nominal", "scale": {"domain": ["L","K"], "range": ["#2e9a5c","#8a7fd0"]}, "legend": null}}},
        {"transform": [{"filter": "datum.k == 'v'"}], "mark": {"type": "text", "font": "Liberation Sans", "fontSize": 20, "color": "#333333", "align": "left", "dx": -53}, "encoding": {"text": {"field": "t"}}}
       ]
      }
     ]
    }
   ]
  },
  {
   "spacing": 0,
   "hconcat": [
    {
     "width": 625, "height": 341,
     "resolve": {"scale": {"x": "independent", "y": "independent", "color": "independent"}},
     "layer": [
      {
       "encoding": {
        "x": {"field": "e", "type": "quantitative", "scale": {"domain": [-0.425, 10.252], "nice": false, "zero": false}, "axis": {"values": [0,0.125,0.25,0.375,0.5,0.625,0.75,0.875,1,1.125,1.25,1.375,1.5,1.625,1.75,1.875,2,2.125,2.25,2.375,2.5,2.625,2.75,2.875,3,3.125,3.25,3.375,3.5,3.625,3.75,3.875,4,4.125,4.25,4.375,4.5,4.625,4.75,4.875,5,5.125,5.25,5.375,5.5,5.625,5.75,5.875,6,6.125,6.25,6.375,6.5,6.625,6.75,6.875,7,7.125,7.25,7.375,7.5,7.625,7.75,7.875,8,8.125,8.25,8.375,8.5,8.625,8.75,8.875,9,9.125,9.25,9.375,9.5,9.625,9.75,9.875,10], "labels": false, "domain": false, "grid": false, "title": null, "ticks": true, "tickSize": 3, "tickColor": "#6e6e6e", "offset": -27}},
        "y": {"field": "c", "type": "quantitative", "stack": null, "scale": {"domain": [-270, 3140], "nice": false, "zero": false}, "axis": null}
       },
       "layer": [
        {"data": {"name": "fr"}, "transform": [{"filter": "datum.p == 'c'"}], "mark": {"type": "rect", "fill": "#dbd9d0"}, "encoding": {"x2": {"field": "e2"}, "y2": {"field": "c2"}}},
        {"data": {"name": "sc"}, "mark": {"type": "area"}, "encoding": {"y2": {"datum": 0}, "color": {"field": "s", "type": "nominal", "scale": {"domain": ["m1","o1","m2","g1","m3","g2","m4","o2","m5"], "range": ["#b35fa6","#f2a25c","#b35fa6","#62bf8e","#b35fa6","#62bf8e","#b35fa6","#f2a25c","#b35fa6"]}, "legend": null}}},
        {"data": {"name": "ln"}, "transform": [{"filter": "datum.p == 'c' && datum.k == 'm'"}], "mark": {"type": "rule", "color": "#76769a", "strokeWidth": 1}, "encoding": {"y2": {"datum": 0}}},
        {"data": {"name": "ln"}, "transform": [{"filter": "datum.p == 'c' && datum.k == 'g'"}], "mark": {"type": "rule", "color": "#2f9e52", "strokeWidth": 1.3}, "encoding": {"y2": {"datum": 0}}},
        {"data": {"name": "lab"}, "transform": [{"filter": "datum.p == 'c'"}], "mark": {"type": "text", "font": "Liberation Sans", "fontSize": 19, "fontWeight": "bold", "color": "#111111"}, "encoding": {"text": {"field": "t"}}},
        {"data": {"name": "let"}, "transform": [{"filter": "datum.p == 'c'"}], "mark": {"type": "text", "font": "Liberation Sans", "fontSize": 34, "align": "left", "baseline": "alphabetic", "color": "#222222"}, "encoding": {"text": {"field": "t"}}}
       ]
      },
      {
       "data": {"name": "tb"},
       "transform": [{"filter": "datum.p == 'c'"}],
       "encoding": {
        "x": {"field": "col", "type": "ordinal", "scale": {"type": "band", "domain": [0,1,2], "range": [280, 619], "paddingInner": 0, "paddingOuter": 0}, "axis": null},
        "y": {"field": "r", "type": "ordinal", "scale": {"type": "band", "domain": [0,1,2], "range": [16, 124], "paddingInner": 0, "paddingOuter": 0}, "axis": null}
       },
       "layer": [
        {"transform": [{"filter": "datum.k == 'v'"}], "mark": {"type": "rect", "fill": "#ffffff", "stroke": "#cfcfcf", "strokeWidth": 1}},
        {"transform": [{"filter": "datum.k == 'v' && datum.r == 1 && datum.col == 1"}], "mark": {"type": "rect", "fill": "transparent", "stroke": "#555555", "strokeDash": [1.5, 1.5], "strokeWidth": 1.2}},
        {"transform": [{"filter": "datum.k == 'h' || datum.k == 'n'"}], "mark": {"type": "rect", "fill": "#e2e2e2", "stroke": "#333333", "strokeWidth": 2.5}},
        {"transform": [{"filter": "datum.k == 'h'"}], "mark": {"type": "text", "font": "Liberation Sans", "fontWeight": "bold", "fontSize": 22, "color": "#111111"}, "encoding": {"text": {"field": "t"}}},
        {"transform": [{"filter": "datum.k == 'n'"}], "mark": {"type": "text", "font": "Liberation Sans", "fontSize": 20, "color": "#444444", "dx": -26}, "encoding": {"text": {"field": "t"}}},
        {"transform": [{"filter": "datum.k == 's'"}], "mark": {"type": "text", "font": "Liberation Sans", "fontSize": 20, "dx": 28}, "encoding": {"text": {"field": "t"}, "color": {"field": "t", "type": "nominal", "scale": {"domain": ["L","K"], "range": ["#2e9a5c","#8a7fd0"]}, "legend": null}}},
        {"transform": [{"filter": "datum.k == 'v'"}], "mark": {"type": "text", "font": "Liberation Sans", "fontSize": 20, "color": "#333333", "align": "left", "dx": -53}, "encoding": {"text": {"field": "t"}}}
       ]
      }
     ]
    },
    {
     "width": 622, "height": 341,
     "resolve": {"scale": {"x": "independent", "y": "independent", "color": "independent"}},
     "layer": [
      {
       "encoding": {
        "x": {"field": "e", "type": "quantitative", "scale": {"domain": [-0.2205, 10.412], "nice": false, "zero": false}, "axis": {"values": [0,0.125,0.25,0.375,0.5,0.625,0.75,0.875,1,1.125,1.25,1.375,1.5,1.625,1.75,1.875,2,2.125,2.25,2.375,2.5,2.625,2.75,2.875,3,3.125,3.25,3.375,3.5,3.625,3.75,3.875,4,4.125,4.25,4.375,4.5,4.625,4.75,4.875,5,5.125,5.25,5.375,5.5,5.625,5.75,5.875,6,6.125,6.25,6.375,6.5,6.625,6.75,6.875,7,7.125,7.25,7.375,7.5,7.625,7.75,7.875,8,8.125,8.25,8.375,8.5,8.625,8.75,8.875,9,9.125,9.25,9.375,9.5,9.625,9.75,9.875,10], "labels": false, "domain": false, "grid": false, "title": null, "ticks": true, "tickSize": 3, "tickColor": "#6e6e6e", "offset": -27}},
        "y": {"field": "c", "type": "quantitative", "stack": null, "scale": {"domain": [-270, 3140], "nice": false, "zero": false}, "axis": null}
       },
       "layer": [
        {"data": {"name": "fr"}, "transform": [{"filter": "datum.p == 'd'"}], "mark": {"type": "rect", "fill": "#dbd9d0"}, "encoding": {"x2": {"field": "e2"}, "y2": {"field": "c2"}}},
        {"data": {"name": "sd"}, "mark": {"type": "area"}, "encoding": {"y2": {"datum": 0}, "color": {"field": "s", "type": "nominal", "scale": {"domain": ["m1","o1","m2","g1","m3","g2","m4","o2","m5"], "range": ["#b35fa6","#f2a25c","#b35fa6","#62bf8e","#b35fa6","#62bf8e","#b35fa6","#f2a25c","#b35fa6"]}, "legend": null}}},
        {"data": {"name": "ln"}, "transform": [{"filter": "datum.p == 'd' && datum.k == 'm'"}], "mark": {"type": "rule", "color": "#76769a", "strokeWidth": 1}, "encoding": {"y2": {"datum": 0}}},
        {"data": {"name": "ln"}, "transform": [{"filter": "datum.p == 'd' && datum.k == 'g'"}], "mark": {"type": "rule", "color": "#2f9e52", "strokeWidth": 1.3}, "encoding": {"y2": {"datum": 0}}},
        {"data": {"name": "lab"}, "transform": [{"filter": "datum.p == 'd'"}], "mark": {"type": "text", "font": "Liberation Sans", "fontSize": 19, "fontWeight": "bold", "color": "#111111"}, "encoding": {"text": {"field": "t"}}},
        {"data": {"name": "let"}, "transform": [{"filter": "datum.p == 'd'"}], "mark": {"type": "text", "font": "Liberation Sans", "fontSize": 34, "align": "left", "baseline": "alphabetic", "color": "#222222"}, "encoding": {"text": {"field": "t"}}}
       ]
      },
      {
       "data": {"name": "tb"},
       "transform": [{"filter": "datum.p == 'd'"}],
       "encoding": {
        "x": {"field": "col", "type": "ordinal", "scale": {"type": "band", "domain": [0,1,2], "range": [267, 602], "paddingInner": 0, "paddingOuter": 0}, "axis": null},
        "y": {"field": "r", "type": "ordinal", "scale": {"type": "band", "domain": [0,1,2], "range": [19, 124], "paddingInner": 0, "paddingOuter": 0}, "axis": null}
       },
       "layer": [
        {"transform": [{"filter": "datum.k == 'v'"}], "mark": {"type": "rect", "fill": "#ffffff", "stroke": "#cfcfcf", "strokeWidth": 1}},
        {"transform": [{"filter": "datum.k == 'v' && datum.r == 1 && datum.col == 1"}], "mark": {"type": "rect", "fill": "transparent", "stroke": "#555555", "strokeDash": [1.5, 1.5], "strokeWidth": 1.2}},
        {"transform": [{"filter": "datum.k == 'h' || datum.k == 'n'"}], "mark": {"type": "rect", "fill": "#e2e2e2", "stroke": "#333333", "strokeWidth": 2.5}},
        {"transform": [{"filter": "datum.k == 'h'"}], "mark": {"type": "text", "font": "Liberation Sans", "fontWeight": "bold", "fontSize": 22, "color": "#111111"}, "encoding": {"text": {"field": "t"}}},
        {"transform": [{"filter": "datum.k == 'n'"}], "mark": {"type": "text", "font": "Liberation Sans", "fontSize": 20, "color": "#444444", "dx": -26}, "encoding": {"text": {"field": "t"}}},
        {"transform": [{"filter": "datum.k == 's'"}], "mark": {"type": "text", "font": "Liberation Sans", "fontSize": 20, "dx": 28}, "encoding": {"text": {"field": "t"}, "color": {"field": "t", "type": "nominal", "scale": {"domain": ["L","K"], "range": ["#2e9a5c","#8a7fd0"]}, "legend": null}}},
        {"transform": [{"filter": "datum.k == 'v'"}], "mark": {"type": "text", "font": "Liberation Sans", "fontSize": 20, "color": "#333333", "align": "left", "dx": -53}, "encoding": {"text": {"field": "t"}}}
       ]
      }
     ]
    }
   ]
  }
 ],
 "config": {
  "view": {"stroke": "#262626", "strokeWidth": 2, "fill": "#e4e4e2"},
  "text": {"font": "Liberation Sans"}
 }
}
